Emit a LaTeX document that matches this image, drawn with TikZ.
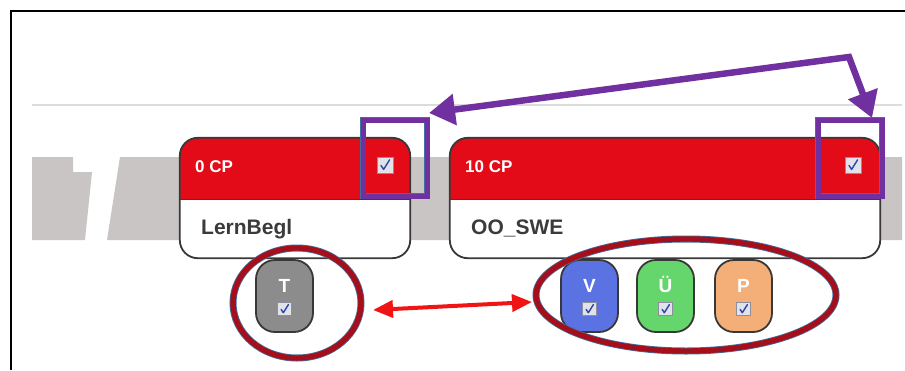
\documentclass[tikz,border=0pt]{standalone}
\usepackage{fontspec}
\setmainfont{Liberation Sans}
\usetikzlibrary{arrows.meta,shapes.geometric}

\definecolor{cpred}{HTML}{E30B17}
\definecolor{cardline}{HTML}{383838}
\definecolor{nametext}{HTML}{3C3A3A}
\definecolor{selpurple}{HTML}{7030A0}
\definecolor{selblue}{HTML}{41719C}
\definecolor{ringred}{HTML}{A50F1C}
\definecolor{linkred}{HTML}{F01414}
\definecolor{bandgray}{HTML}{C9C5C5}
\definecolor{rulegray}{HTML}{DCDCDC}
\definecolor{chipgray}{HTML}{8C8C8C}
\definecolor{chipblue}{HTML}{5B72E2}
\definecolor{chipgreen}{HTML}{64D66C}
\definecolor{chiporange}{HTML}{F4AF78}
\definecolor{boxfill}{HTML}{E2E2EA}
\definecolor{boxline}{HTML}{8E8E9E}
\definecolor{checkblue}{HTML}{2B47A8}

\tikzset{
  card/.style={fill=white, rounded corners=18pt, minimum height=120pt, inner sep=0pt},
  cardedge/.style={draw=cardline, line width=1.8pt, rounded corners=18pt},
  cptext/.style={text=white, font=\fontsize{17}{20}\selectfont\bfseries, inner sep=0pt, anchor=base west},
  nametxt/.style={text=nametext, font=\fontsize{21}{25}\selectfont\bfseries, inner sep=0pt, anchor=base west},
  selbox/.style={draw=selblue, line width=0.9pt, double=selpurple, double distance=5pt,
    minimum width=64pt, minimum height=76pt, inner sep=0pt},
  ring/.style={ellipse, draw=selblue, line width=0.8pt, double=ringred, double distance=5.4pt, inner sep=0pt},
  chip/.style={draw=cardline, line width=1.8pt, rounded corners=19pt,
    minimum width=57pt, minimum height=72pt, inner sep=0pt},
  chiptext/.style={text=white, font=\fontsize{19}{22}\selectfont\bfseries, inner sep=0pt, anchor=base},
  purplelink/.style={draw=selpurple, line width=6.5pt, line join=miter,
    {Triangle[length=26pt,width=30pt]}-{Triangle[length=26pt,width=30pt]}},
  redlink/.style={draw=linkred, line width=4pt,
    {Triangle[length=20pt,width=17pt]}-{Triangle[length=20pt,width=17pt]}},
  checkbox/.pic={
    \draw[fill=boxfill, draw=boxline, line width=0.9pt] (-8,-8) rectangle (8,8);
    \draw[checkblue, line width=1.4pt, line cap=round, line join=round]
      (-4,0.4) -- (-1.4,4.4) -- (4.6,-5.2);
  }
}

\begin{document}
\begin{tikzpicture}[x=1pt,y=-1pt]
  \useasboundingbox (0,0) rectangle (905,370);

  % page frame and header rule
  \draw[black, line width=2pt] (11,370) -- (11,11) -- (905,11);
  \draw[rulegray, line width=1.5pt] (32,105) -- (902,105);

  % grey band behind the cards
  \fill[bandgray] (32,157) -- (73,157) -- (73,172) -- (92,172) -- (85,240) -- (32,240) -- cycle;
  \fill[bandgray] (120,157) -- (902,157) -- (902,240) -- (107,240) -- cycle;

  % module cards: white body, red header, dark edge
  \node[card, minimum width=230pt] (c1) at (295,198) {};
  \node[card, minimum width=430pt] (c2) at (665,198) {};
  \foreach \c in {c1,c2} {
    \begin{scope}
      \clip[rounded corners=18pt] (\c.south west) rectangle (\c.north east);
      \fill[cpred] (\c.north west) rectangle ([yshift=-62pt]\c.north east);
    \end{scope}
    \draw[cardline!80!red, line width=0.8pt] ([yshift=-62pt]\c.north west) -- ([yshift=-62pt]\c.north east);
    \draw[cardedge] (\c.south west) rectangle (\c.north east);
  }

  \node[cptext] (cp1) at (195,172) {0 CP};
  \node[cptext] (cp2) at (465,172) {10 CP};
  \node[nametxt] (n1) at (201,234) {LernBegl};
  \node[nametxt] (n2) at (471,234) {OO\_SWE};

  \pic at (385,165) {checkbox};
  \pic at (853,165) {checkbox};

  % selection frames round the card check boxes
  \node[selbox] (s1) at (395,158) {};
  \node[selbox] (s2) at (850,158) {};

  % part chips
  \node[chip, fill=chipgray]   (t) at (284.5,296) {};
  \node[chip, fill=chipblue]   (v) at (589.5,296) {};
  \node[chip, fill=chipgreen]  (u) at (665.5,296) {};
  \node[chip, fill=chiporange] (p) at (743.5,296) {};
  \node[chiptext] (tl) at (284.5,292) {T};
  \node[chiptext] (vl) at (589.5,292) {V};
  \node[chiptext] (ul) at (665.5,292) {Ü};
  \node[chiptext] (pl) at (743.5,292) {P};
  \foreach \cx in {284.5,589.5,665.5,743.5}
    \pic[scale=0.85] at (\cx,309) {checkbox};

  % rings round the chip groups
  \node[ring, minimum width=128pt, minimum height=110pt] (e1) at (297,303) {};
  \node[ring, minimum width=300pt, minimum height=112pt] (e2) at (686,295) {};

  % links
  \coordinate (pk) at (849,57);
  \coordinate (pa) at (429,113);
  \coordinate (pb) at (872,118);
  \draw[purplelink] (pa) -- (pk) -- (pb);

  \coordinate (ra) at (373,310);
  \coordinate (rb) at (532,302);
  \draw[redlink] (ra) -- (rb);
\end{tikzpicture}
\end{document}
